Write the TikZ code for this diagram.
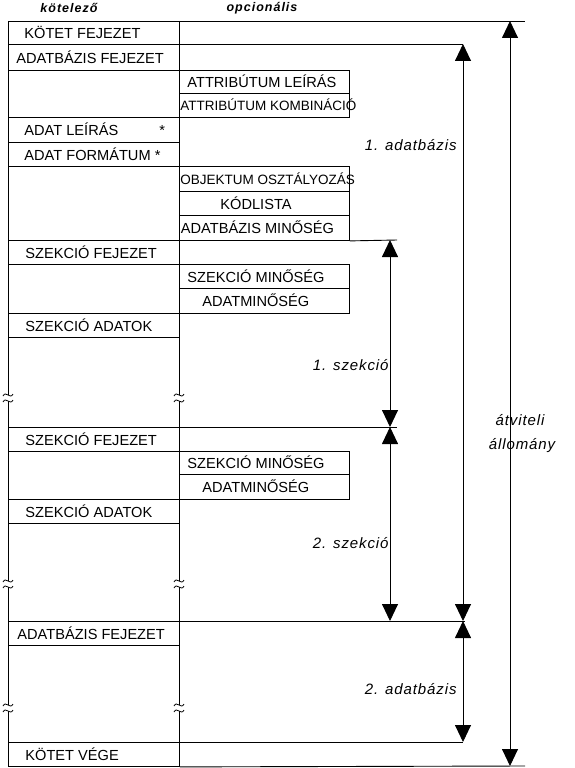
\documentclass[tikz,border=0pt]{standalone}
\usepackage{fontspec}
\setmainfont{Liberation Sans}
\usetikzlibrary{arrows.meta}
\begin{document}
\begin{tikzpicture}[x=1pt,y=-1pt,line width=0.9pt,
  bx/.style={draw, anchor=north west, inner sep=0pt, minimum width=#1},
  lt/.style={anchor=west, inner sep=0pt, font=\fontsize{14.6}{16}\selectfont},
  ltn/.style={anchor=west, inner sep=0pt, font=\fontsize{13.5}{15}\selectfont},
  dimarrow/.style={{Triangle[length=17pt,width=16pt]}-{Triangle[length=17pt,width=16pt]}},
  lbl/.style={inner sep=0pt, font=\fontsize{15}{17}\selectfont\itshape\addfontfeature{LetterSpace=6}},
  hdr/.style={inner sep=0pt, font=\fontsize{12.5}{14}\selectfont\bfseries\itshape\addfontfeature{LetterSpace=8}},
  brk/.pic={
    \draw[line width=0.8pt] (-5,-2) .. controls (-2,-8) and (2,2) .. (5,-4);
    \draw[line width=0.8pt] (-5,4) .. controls (-2,-2) and (2,8) .. (5,2);
  }]
\useasboundingbox (0,0) rectangle (575,768);

% headers
\node[hdr] (h1) at (69,8) {kötelező};
\node[hdr] (h2) at (262,8) {opcionális};

% column lines with breaks
\foreach \x in {8,179}{
  \draw (\x,21) -- (\x,395);
  \draw (\x,401) -- (\x,581);
  \draw (\x,587) -- (\x,705);
  \draw (\x,711) -- (\x,766);
  \pic at (\x,398) {brk};
  \pic at (\x,584) {brk};
  \pic at (\x,708) {brk};
}

% mandatory boxes
\node[bx=171pt, minimum height=23pt] (kf) at (8,21) {};
\node[lt] (kf-t) at (24,32.5) {KÖTET FEJEZET};
\node[bx=171pt, minimum height=26pt] (af1) at (8,44) {};
\node[lt] (af1-t) at (16,57) {ADATBÁZIS FEJEZET};
\node[bx=171pt, minimum height=25pt] (al) at (8,117) {};
\node[lt] (al-t) at (24,129.5) {\makebox[135pt][l]{ADAT LEÍRÁS}*};
\node[bx=171pt, minimum height=24pt] (afm) at (8,142) {};
\node[lt] (afm-t) at (24,154) {ADAT FORMÁTUM *};
\node[bx=171pt, minimum height=24pt] (sf1) at (8,240) {};
\node[lt] (sf1-t) at (25,252) {SZEKCIÓ FEJEZET};
\node[bx=171pt, minimum height=24pt] (sa1) at (8,313) {};
\node[lt] (sa1-t) at (25,325) {SZEKCIÓ ADATOK};
\node[bx=171pt, minimum height=24pt] (sf2) at (8,427) {};
\node[lt] (sf2-t) at (25,439) {SZEKCIÓ FEJEZET};
\node[bx=171pt, minimum height=24pt] (sa2) at (8,499) {};
\node[lt] (sa2-t) at (25,511) {SZEKCIÓ ADATOK};
\node[bx=171pt, minimum height=24pt] (af2) at (8,621) {};
\node[lt] (af2-t) at (17,633) {ADATBÁZIS FEJEZET};
\node[bx=171pt, minimum height=24pt] (kv) at (8,742) {};
\node[lt] (kv-t) at (25,754) {KÖTET VÉGE};

% optional boxes
\node[bx=170pt, minimum height=23pt] (atl) at (179,70) {};
\node[lt] (atl-t) at (187,81.5) {ATTRIBÚTUM LEÍRÁS};
\node[bx=170pt, minimum height=24pt] (atk) at (179,93) {};
\node[ltn] (atk-t) at (180,105) {ATTRIBÚTUM KOMBINÁCIÓ};
\node[bx=170pt, minimum height=25pt] (oo) at (179,166) {};
\node[ltn] (oo-t) at (180,178.5) {OBJEKTUM OSZTÁLYOZÁS};
\node[bx=170pt, minimum height=24pt] (kd) at (179,191) {};
\node[lt] (kd-t) at (220,203) {KÓDLISTA};
\node[bx=170pt, minimum height=25pt] (am) at (179,215) {};
\node[lt] (am-t) at (180.5,227.5) {ADATBÁZIS MINŐSÉG};
\node[bx=170pt, minimum height=24pt] (sm1) at (179,264) {};
\node[lt] (sm1-t) at (187,276) {SZEKCIÓ MINŐSÉG};
\node[bx=170pt, minimum height=25pt] (dm1) at (179,288) {};
\node[lt] (dm1-t) at (202,300.5) {ADATMINŐSÉG};
\node[bx=170pt, minimum height=23pt] (sm2) at (179,451) {};
\node[lt] (sm2-t) at (187,462.5) {SZEKCIÓ MINŐSÉG};
\node[bx=170pt, minimum height=25pt] (dm2) at (179,474) {};
\node[lt] (dm2-t) at (202,486.5) {ADATMINŐSÉG};

% extension lines
\coordinate (tr) at (525,21);
\coordinate (db1) at (463,44);
\coordinate (s1e) at (397,240);
\coordinate (s2e) at (397,427);
\coordinate (db2) at (465,621);
\coordinate (db2e) at (463,742);
\coordinate (br) at (525,766);
\draw (kf.north east) -- (tr);
\draw (af1.north east) -- (db1);
\draw (am.south east) -- (s1e);
\draw (sf2.north east) -- (s2e);
\draw (af2.north east) -- (db2);
\draw (kv.north east) -- (db2e);
\draw (kv.south east) -- (br);

% dimension arrows
\coordinate (s1a) at (390,240);
\coordinate (s1b) at (390,427);
\coordinate (s2b) at (390,621);
\coordinate (d1a) at (463,44);
\coordinate (d1b) at (463,621);
\coordinate (d2b) at (463,742);
\coordinate (ta) at (510,21);
\coordinate (tb) at (510,766);
\draw[dimarrow] (s1a) -- (s1b);
\draw[dimarrow] (s1b) -- (s2b);
\draw[dimarrow] (d1a) -- (d1b);
\draw[dimarrow] (d1b) -- (d2b);
\draw[dimarrow] (ta) -- (tb);

% labels
\node[lbl, anchor=east] (l1) at (457,145.5) {1. adatbázis};
\node[lbl, anchor=east] (l2) at (389,365) {1. szekció};
\node[lbl, anchor=east] (l3) at (389,543) {2. szekció};
\node[lbl, anchor=east] (l4) at (457,689) {2. adatbázis};
\node[lbl] (l5) at (520,420) {átviteli};
\node[lbl] (l6) at (522,446) {állomány};
\end{tikzpicture}
\end{document}
